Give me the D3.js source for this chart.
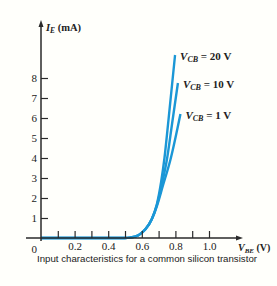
<!DOCTYPE html>
<html>
<head>
<meta charset="utf-8">
<script src="https://cdn.jsdelivr.net/npm/d3@7"></script>
<style>
  body { margin: 0; background: #fffffb; }
  svg { display: block; }
</style>
</head>
<body>
<div id="chart"></div>
<script>
// Input characteristic data (V_BE in volts, I_E in mA)
const vbe20 = [0, 0.5, 0.53, 0.58, 0.62, 0.66, 0.69, 0.715, 0.735, 0.76, 0.798];
const ie20  = [0, 0, 0.02, 0.14, 0.42, 0.95, 1.7, 2.8, 4.0, 6.0, 9.15];
const vbe10 = [0, 0.5, 0.53, 0.58, 0.62, 0.66, 0.69, 0.72, 0.75, 0.78, 0.815];
const ie10  = [0, 0, 0.02, 0.14, 0.42, 0.95, 1.65, 2.7, 3.95, 5.7, 7.75];
const vbe1  = [0, 0.5, 0.53, 0.58, 0.62, 0.66, 0.69, 0.725, 0.77, 0.83];
const ie1   = [0, 0, 0.02, 0.14, 0.42, 0.95, 1.6, 2.6, 3.9, 6.2];
const seriesNames = ["20", "10", "1"];
const xTicks = [0.1, 0.2, 0.3, 0.4, 0.5, 0.6, 0.7, 0.8, 0.9, 1.0];
const yTicks = [1, 2, 3, 4, 5, 6, 7, 8];

const W = 277, H = 286;
const svg = d3.select("#chart").append("svg")
  .attr("width", W).attr("height", H);

const x = d3.scaleLinear().domain([0, 1]).range([41, 209]);
const y = d3.scaleLinear().domain([0, 8]).range([238, 78]);

const axisColor = "#2a2a2a";
const serif = "'Liberation Serif', 'DejaVu Serif', serif";

// curves
const series = [
  { name: seriesNames[0], v: vbe20, i: ie20 },
  { name: seriesNames[1], v: vbe10, i: ie10 },
  { name: seriesNames[2], v: vbe1, i: ie1 }
];
const line = d3.line()
  .x(d => x(d[0]))
  .y(d => y(d[1]))
  .curve(d3.curveMonotoneX);

svg.selectAll("path.curve")
  .data(series)
  .enter()
  .append("path")
    .attr("class", "curve")
    .attr("d", s => line(s.v.map((v, k) => [v, s.i[k]])))
    .attr("fill", "none")
    .attr("stroke", "#1b97d6")
    .attr("stroke-width", 2.4);

// y axis
const yAxis = svg.append("g")
  .attr("transform", `translate(${x(0)},0)`)
  .call(d3.axisLeft(y).tickValues(yTicks).tickSize(-7).tickPadding(4));
yAxis.select(".domain").remove();
yAxis.selectAll("line").attr("stroke", axisColor).attr("stroke-width", 1.2);
yAxis.selectAll("text")
  .attr("font-family", serif).attr("font-size", 11).attr("fill", "#222");

// x axis
const xAxis = svg.append("g")
  .attr("transform", `translate(0,${y(0)})`)
  .call(d3.axisBottom(x).tickValues(xTicks).tickSize(-7).tickPadding(4)
    .tickFormat(d => (Math.round(d * 10) % 2 === 0) ? d3.format(".1f")(d) : ""));
xAxis.select(".domain").remove();
xAxis.selectAll("line").attr("stroke", axisColor).attr("stroke-width", 1.2);
xAxis.selectAll("text")
  .attr("font-family", serif).attr("font-size", 11).attr("fill", "#222");

// axis lines with arrows
svg.append("line")
  .attr("x1", x(0)).attr("x2", x(0))
  .attr("y1", y(0) + 3).attr("y2", 24)
  .attr("stroke", axisColor).attr("stroke-width", 1.5);
svg.append("path")
  .attr("d", `M${x(0)},20 L${x(0) - 2.5},27 L${x(0) + 2.5},27 Z`)
  .attr("fill", axisColor);
svg.append("line")
  .attr("x1", 26).attr("x2", 238)
  .attr("y1", y(0)).attr("y2", y(0))
  .attr("stroke", axisColor).attr("stroke-width", 1.5);
svg.append("path")
  .attr("d", `M243,${y(0)} L236,${y(0) - 2.5} L236,${y(0) + 2.5} Z`)
  .attr("fill", axisColor);

// origin label
svg.append("text")
  .attr("x", x(0) - 4).attr("y", y(0) + 15)
  .attr("text-anchor", "end")
  .attr("font-family", serif).attr("font-size", 11).attr("fill", "#222")
  .text("0");

// axis titles
const yTitle = svg.append("text")
  .attr("x", 46).attr("y", 31)
  .attr("font-family", serif).attr("font-size", 10.5).attr("font-weight", "bold").attr("fill", "#222");
yTitle.append("tspan").attr("font-style", "italic").text("I");
yTitle.append("tspan").attr("font-style", "italic").attr("font-size", 7.5).attr("dy", 2).text("E");
yTitle.append("tspan").attr("dy", -2).text(" (mA)");

const xTitle = svg.append("text")
  .attr("x", 238).attr("y", 251)
  .attr("font-family", serif).attr("font-size", 10).attr("font-weight", "bold").attr("fill", "#222");
xTitle.append("tspan").attr("font-style", "italic").text("V");
xTitle.append("tspan").attr("font-style", "italic").attr("font-size", 7).attr("dy", 2).text("BE");
xTitle.append("tspan").attr("dy", -2).text(" (V)");

// series labels at curve ends
series.forEach(s => {
  const last = s.v.length - 1;
  const t = svg.append("text")
    .attr("x", x(s.v[last]) + 5).attr("y", y(s.i[last]) + 5)
    .attr("font-family", serif).attr("font-size", 11).attr("font-weight", "bold").attr("fill", "#222");
  t.append("tspan").attr("font-style", "italic").text("V");
  t.append("tspan").attr("font-style", "italic").attr("font-size", 8).attr("dy", 2).text("CB");
  t.append("tspan").attr("dy", -2).text(` = ${s.name} V`);
});

// caption
svg.append("text")
  .attr("x", 37).attr("y", 262)
  .attr("font-family", "'Liberation Sans', Arial, sans-serif")
  .attr("font-size", 9).attr("fill", "#1a1a1a")
  .attr("textLength", 220).attr("lengthAdjust", "spacingAndGlyphs")
  .text("Input characteristics for a common silicon transistor");
</script>
</body>
</html>
